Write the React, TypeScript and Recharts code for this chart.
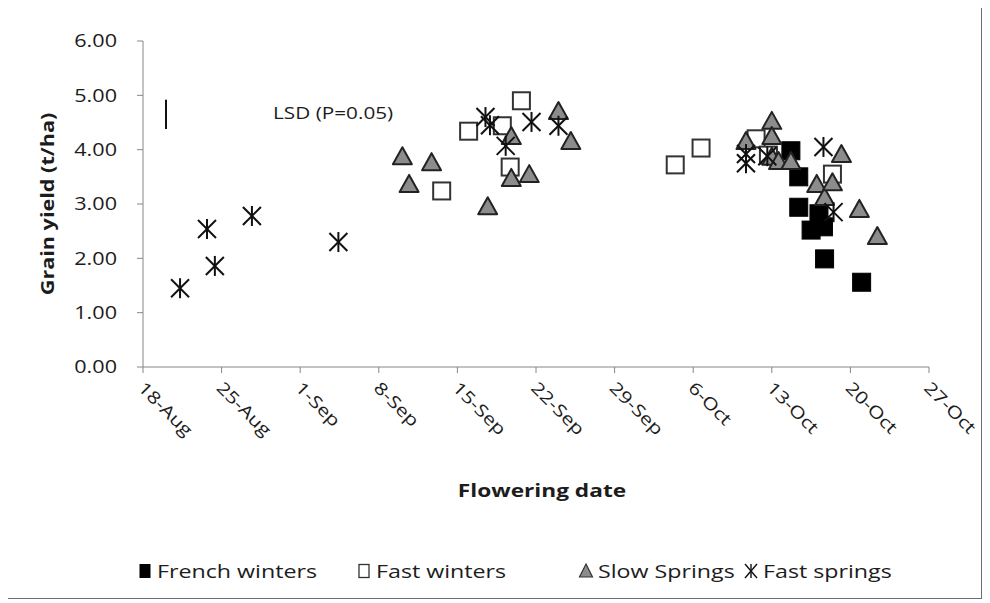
import React from "react";
import {
  Label,
  Legend,
  ReferenceDot,
  ReferenceLine,
  Scatter,
  ScatterChart,
  XAxis,
  YAxis,
} from "recharts";

// x = days after 18 Aug, y = grain yield (t/ha)
const frenchWinters = [
  { day: 57.7, yld: 3.98 },
  { day: 58.4, yld: 3.5 },
  { day: 58.4, yld: 2.94 },
  { day: 59.5, yld: 2.52 },
  { day: 60.2, yld: 2.82 },
  { day: 60.6, yld: 2.58 },
  { day: 60.7, yld: 1.99 },
  { day: 64.0, yld: 1.56 },
];

const fastWinters = [
  { day: 26.6, yld: 3.24 },
  { day: 29.0, yld: 4.34 },
  { day: 32.0, yld: 4.44 },
  { day: 32.7, yld: 3.68 },
  { day: 33.7, yld: 4.9 },
  { day: 47.4, yld: 3.72 },
  { day: 49.7, yld: 4.03 },
  { day: 54.6, yld: 4.2 },
  { day: 55.7, yld: 3.9 },
  { day: 61.4, yld: 3.55 },
];

const slowSprings = [
  { day: 23.1, yld: 3.88 },
  { day: 23.7, yld: 3.37 },
  { day: 25.7, yld: 3.77 },
  { day: 30.7, yld: 2.96 },
  { day: 32.8, yld: 4.25 },
  { day: 32.8, yld: 3.48 },
  { day: 34.4, yld: 3.55 },
  { day: 37.0, yld: 4.71 },
  { day: 38.1, yld: 4.16 },
  { day: 53.7, yld: 4.16 },
  { day: 56.0, yld: 4.53 },
  { day: 56.0, yld: 4.25 },
  { day: 56.0, yld: 3.87 },
  { day: 56.6, yld: 3.79 },
  { day: 57.7, yld: 3.79 },
  { day: 60.0, yld: 3.37 },
  { day: 60.7, yld: 3.13 },
  { day: 61.4, yld: 3.4 },
  { day: 62.2, yld: 3.92 },
  { day: 63.8, yld: 2.91 },
  { day: 65.4, yld: 2.41 },
];

const fastSprings = [
  { day: 3.3, yld: 1.45 },
  { day: 5.7, yld: 2.54 },
  { day: 6.4, yld: 1.86 },
  { day: 9.7, yld: 2.78 },
  { day: 17.4, yld: 2.3 },
  { day: 30.5, yld: 4.6 },
  { day: 30.9, yld: 4.45 },
  { day: 32.3, yld: 4.07 },
  { day: 34.6, yld: 4.51 },
  { day: 37.0, yld: 4.44 },
  { day: 53.7, yld: 3.92 },
  { day: 53.7, yld: 3.75 },
  { day: 55.6, yld: 3.88 },
  { day: 60.6, yld: 4.05 },
  { day: 61.5, yld: 2.85 },
];

const dateTicks = [0, 7, 14, 21, 28, 35, 42, 49, 56, 63, 70];
const dateLabels = [
  "18-Aug",
  "25-Aug",
  "1-Sep",
  "8-Sep",
  "15-Sep",
  "22-Sep",
  "29-Sep",
  "6-Oct",
  "13-Oct",
  "20-Oct",
  "27-Oct",
];
const yieldTicks = [0, 1, 2, 3, 4, 5, 6];

// LSD bar: drawn at day 2.05, spanning 4.38 – 4.92 t/ha
const lsdDay = 2.05;
const lsdLow = 4.38;
const lsdHigh = 4.92;
const lsdText = "LSD (P=0.05)";

const FONT = '"Open Sans", Arial, sans-serif';
const INK = "#1c1c1c";
const AXIS = "#868686";

const W = 973;
const H = 590;

type Pt = { cx?: number; cy?: number };

function FilledSquare({ cx = 0, cy = 0 }: Pt) {
  return <rect x={cx - 9} y={cy - 9} width={18} height={18} fill="#000" stroke="#000" strokeWidth={1} />;
}

function OpenSquare({ cx = 0, cy = 0 }: Pt) {
  return <rect x={cx - 8.5} y={cy - 8.5} width={17} height={17} fill="#fff" stroke="#333" strokeWidth={2} />;
}

function GreyTriangle({ cx = 0, cy = 0 }: Pt) {
  return (
    <path
      d={`M${cx},${cy - 9} L${cx + 9.5},${cy + 8} L${cx - 9.5},${cy + 8} Z`}
      fill="#8c8c8c"
      stroke="#222"
      strokeWidth={2}
      strokeLinejoin="round"
    />
  );
}

function Asterisk({ cx = 0, cy = 0 }: Pt) {
  return (
    <g stroke="#111" strokeWidth={2} fill="none">
      <line x1={cx} y1={cy - 10} x2={cx} y2={cy + 10} />
      <line x1={cx - 9} y1={cy - 9} x2={cx + 9} y2={cy + 9} />
      <line x1={cx - 9} y1={cy + 9} x2={cx + 9} y2={cy - 9} />
    </g>
  );
}

function DateTick({ x, y, payload }: any) {
  const i = dateTicks.indexOf(payload.value);
  return (
    <text
      transform={`translate(${x - 6},${y + 14}) rotate(45) scale(1.24,1)`}
      fontSize={17}
      fontFamily={FONT}
      fill={INK}
    >
      {dateLabels[i]}
    </text>
  );
}

function YieldTick({ x, y, payload }: any) {
  return (
    <text
      transform={`translate(${x - 18},${y}) scale(1.2,1)`}
      dy="0.36em"
      textAnchor="end"
      fontSize={18}
      fontFamily={FONT}
      fill={INK}
    >
      {Number(payload.value).toFixed(2)}
    </text>
  );
}

function LegendBox() {
  const items = [
    { x: 137, name: "French winters", icon: <rect x={-5.5} y={-7} width={11} height={14} fill="#000" /> },
    { x: 356, name: "Fast winters", icon: <rect x={-5} y={-6.5} width={10} height={13} fill="#fff" stroke="#333" strokeWidth={1.3} /> },
    {
      x: 578,
      name: "Slow Springs",
      icon: <path d="M0,-7 L6.5,6 L-6.5,6 Z" fill="#8c8c8c" stroke="#333" strokeWidth={1.2} />,
    },
    {
      x: 743,
      name: "Fast springs",
      icon: (
        <g stroke="#111" strokeWidth={1.4}>
          <line x1={0} y1={-7} x2={0} y2={7} />
          <line x1={-6} y1={-7} x2={6} y2={7} />
          <line x1={-6} y1={7} x2={6} y2={-7} />
        </g>
      ),
    },
  ];
  return (
    <svg width={W} height={30} style={{ display: "block" }}>
      {items.map((it) => (
        <g key={it.name} transform={`translate(${it.x},14)`}>
          {it.icon}
          <text
            transform={`translate(12,6.5) scale(1.29,1)`}
            fontSize={18}
            fontFamily={FONT}
            fill={INK}
          >
            {it.name}
          </text>
        </g>
      ))}
    </svg>
  );
}

export default function App() {
  return (
    <div
      style={{
        width: W,
        height: H,
        border: "1px solid #6e6e6e",
        background: "#fff",
        position: "relative",
        left: -1,
        top: -1,
      }}
    >
      <ScatterChart width={W} height={H} margin={{ top: 33, right: 52, left: 0, bottom: 0 }}>
        <XAxis
          type="number"
          dataKey="day"
          domain={[0, 70]}
          ticks={dateTicks}
          interval={0}
          height={H - 359}
          tick={<DateTick />}
          tickSize={6}
          stroke={AXIS}
          axisLine={{ stroke: AXIS }}
          tickLine={{ stroke: AXIS }}
        >
          <Label
            content={({ viewBox }: any) => (
              <text
                transform={`translate(${viewBox.x + viewBox.width / 2 + 6},${viewBox.y + 130}) scale(1.26,1)`}
                textAnchor="middle"
                fontSize={18}
                fontWeight="bold"
                fontFamily={FONT}
                fill={INK}
              >
                Flowering date
              </text>
            )}
          />
        </XAxis>
        <YAxis
          type="number"
          dataKey="yld"
          domain={[0, 6]}
          ticks={yieldTicks}
          interval={0}
          width={135}
          tick={<YieldTick />}
          tickSize={6}
          stroke={AXIS}
          axisLine={{ stroke: AXIS }}
          tickLine={{ stroke: AXIS }}
        >
          <Label
            content={({ viewBox }: any) => (
              <text
                transform={`translate(46,${viewBox.y + viewBox.height / 2}) rotate(-90) scale(1.2,1)`}
                textAnchor="middle"
                fontSize={18}
                fontWeight="bold"
                fontFamily={FONT}
                fill={INK}
              >
                Grain yield (t/ha)
              </text>
            )}
          />
        </YAxis>

        <ReferenceLine
          segment={[
            { x: lsdDay, y: lsdLow },
            { x: lsdDay, y: lsdHigh },
          ]}
          stroke="#111"
          strokeWidth={2}
        />
        <ReferenceDot
          x={11.67}
          y={(lsdLow + lsdHigh) / 2}
          r={1}
          fill="none"
          stroke="none"
        >
          <Label
            content={({ viewBox }: any) => (
              <text
                transform={`translate(${viewBox.x},${viewBox.y}) scale(1.22,1)`}
                dy="0.36em"
                fontSize={17}
                fontFamily={FONT}
                fill={INK}
              >
                {lsdText}
              </text>
            )}
          />
        </ReferenceDot>

        <Scatter name="French winters" data={frenchWinters} shape={FilledSquare} isAnimationActive={false} />
        <Scatter name="Fast winters" data={fastWinters} shape={OpenSquare} isAnimationActive={false} />
        <Scatter name="Slow Springs" data={slowSprings} shape={GreyTriangle} isAnimationActive={false} />
        <Scatter name="Fast springs" data={fastSprings} shape={Asterisk} isAnimationActive={false} />

        <Legend
          layout="horizontal"
          verticalAlign="middle"
          align="center"
          content={() => <LegendBox />}
          wrapperStyle={{ top: 549, left: 0, width: W, height: 30 }}
        />
      </ScatterChart>
    </div>
  );
}
